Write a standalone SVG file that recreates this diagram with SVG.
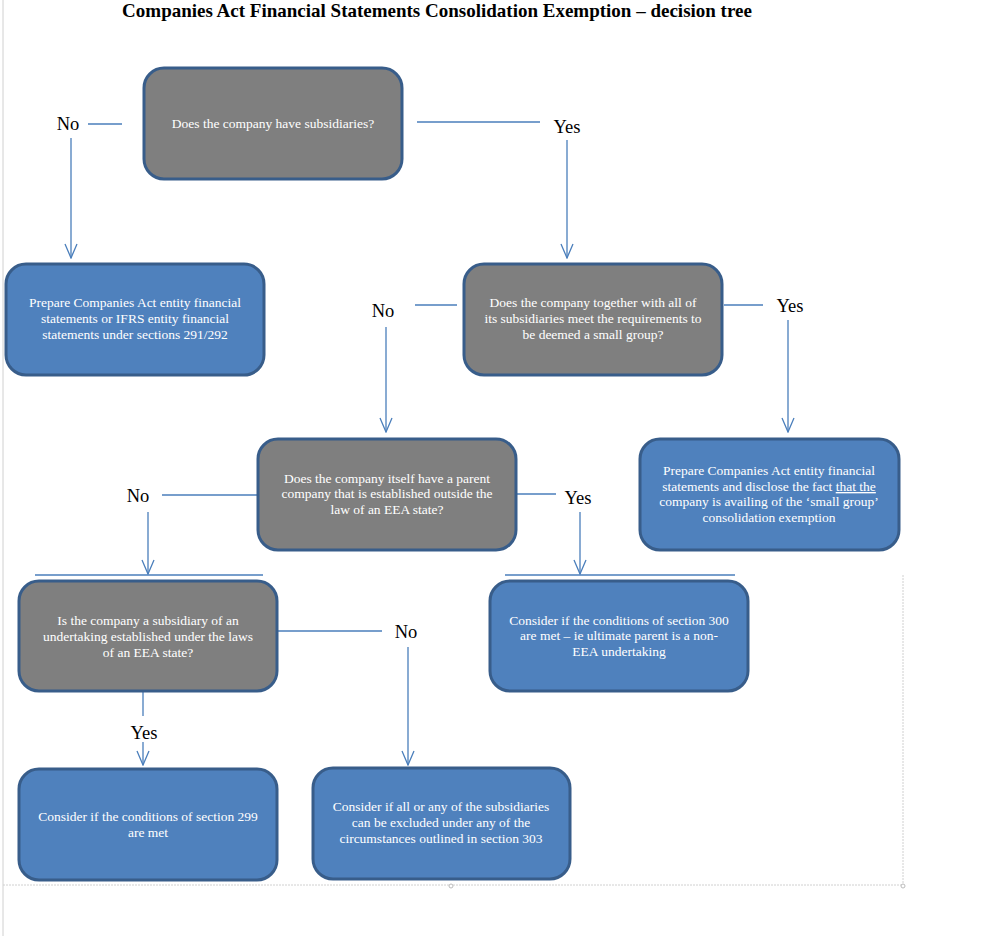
<svg xmlns="http://www.w3.org/2000/svg" width="1001" height="936" viewBox="0 0 1001 936">
<style>
.title{font-family:"Liberation Serif",serif;font-size:19px;font-weight:bold;fill:#000}
.nt{font-family:"Liberation Serif",serif;font-size:13.5px;fill:#fff;text-anchor:middle}
.lbl{font-family:"Liberation Serif",serif;font-size:18.5px;fill:#000;text-anchor:middle}
.gray{fill:#7f7f7f;stroke:#385d8a;stroke-width:3}
.blue{fill:#4f81bd;stroke:#385d8a;stroke-width:3}
.c{fill:none;stroke:#4a7ebb;stroke-width:1.3}
.frame{fill:none;stroke:#d0d0d0;stroke-width:1}
</style>
<defs>
<marker id="ah" markerUnits="userSpaceOnUse" markerWidth="16" markerHeight="14" refX="15" refY="7" orient="auto" viewBox="0 0 16 14">
<path d="M1,1 L15,7 L1,13" fill="none" stroke="#4a7ebb" stroke-width="1.3"/>
</marker>
</defs>
<rect width="1001" height="936" fill="#fff"/>
<g id="frame">
<line class="frame" x1="3" y1="0" x2="3" y2="936"/>
<line class="frame" x1="3" y1="885" x2="903" y2="885" stroke-dasharray="2,1"/>
<line class="frame" x1="903" y1="575" x2="903" y2="885" stroke-dasharray="2,1"/>
<circle cx="451" cy="886" r="2" fill="#fff" stroke="#bbb"/>
<circle cx="903" cy="886" r="2" fill="#fff" stroke="#bbb"/>
</g>
<text class="title" x="437" y="17" text-anchor="middle">Companies Act Financial Statements Consolidation Exemption – decision tree</text>
<g id="connectors">
<line class="c" x1="88" y1="124" x2="122" y2="124"/>
<line class="c" x1="71" y1="138" x2="71" y2="258" marker-end="url(#ah)"/>
<line class="c" x1="417" y1="122" x2="540" y2="122"/>
<line class="c" x1="567" y1="140" x2="567" y2="258" marker-end="url(#ah)"/>
<line class="c" x1="415" y1="305" x2="457" y2="305"/>
<line class="c" x1="386" y1="327" x2="386" y2="432" marker-end="url(#ah)"/>
<line class="c" x1="724" y1="305" x2="763" y2="305"/>
<line class="c" x1="788" y1="320" x2="788" y2="432" marker-end="url(#ah)"/>
<line class="c" x1="162" y1="495" x2="258" y2="495"/>
<line class="c" x1="148" y1="512" x2="148" y2="574" marker-end="url(#ah)"/>
<line class="c" x1="35" y1="575" x2="263" y2="575"/>
<line class="c" x1="516" y1="494" x2="556" y2="494"/>
<line class="c" x1="580" y1="512" x2="580" y2="574" marker-end="url(#ah)"/>
<line class="c" x1="505" y1="575" x2="735" y2="575"/>
<line class="c" x1="278" y1="631" x2="382" y2="631"/>
<line class="c" x1="408" y1="647" x2="408" y2="765" marker-end="url(#ah)"/>
<line class="c" x1="143" y1="692" x2="143" y2="716"/>
<line class="c" x1="143" y1="742" x2="143" y2="765" marker-end="url(#ah)"/>
</g>
<g id="labels">
<text class="lbl" x="68" y="130">No</text>
<text class="lbl" x="567" y="133">Yes</text>
<text class="lbl" x="383" y="317">No</text>
<text class="lbl" x="790" y="312">Yes</text>
<text class="lbl" x="138" y="502">No</text>
<text class="lbl" x="578" y="504">Yes</text>
<text class="lbl" x="406" y="638">No</text>
<text class="lbl" x="144" y="739">Yes</text>
</g>
<g id="n1">
<rect class="gray" x="144" y="68" width="258" height="111" rx="20"/>
<text class="nt" x="273" y="128">Does the company have subsidiaries?</text>
</g>
<g id="n2">
<rect class="blue" x="6" y="264" width="258" height="111" rx="20"/>
<text class="nt" x="135" y="307">Prepare Companies Act entity financial</text>
<text class="nt" x="135" y="323">statements or IFRS entity financial</text>
<text class="nt" x="135" y="339">statements under sections 291/292</text>
</g>
<g id="n3">
<rect class="gray" x="464" y="264" width="258" height="111" rx="20"/>
<text class="nt" x="593" y="307">Does the company together with all of</text>
<text class="nt" x="593" y="323">its subsidiaries meet the requirements to</text>
<text class="nt" x="593" y="339">be deemed a small group?</text>
</g>
<g id="n4">
<rect class="gray" x="258" y="439" width="258" height="111" rx="20"/>
<text class="nt" x="387" y="483">Does the company itself have a parent</text>
<text class="nt" x="387" y="498">company that is established outside the</text>
<text class="nt" x="387" y="514">law of an EEA state?</text>
</g>
<g id="n5">
<rect class="blue" x="640" y="439" width="259" height="111" rx="20"/>
<text class="nt" x="769" y="475">Prepare Companies Act entity financial</text>
<text class="nt" x="769" y="491">statements and disclose the fact <tspan text-decoration="underline">that  the</tspan></text>
<text class="nt" x="769" y="506">company is availing of the ‘small group’</text>
<text class="nt" x="769" y="522">consolidation exemption</text>
</g>
<g id="n6">
<rect class="gray" x="19" y="581" width="258" height="110" rx="20"/>
<text class="nt" x="148" y="625">Is the company a subsidiary of an</text>
<text class="nt" x="148" y="641">undertaking established under the laws</text>
<text class="nt" x="148" y="657">of an EEA state?</text>
</g>
<g id="n7">
<rect class="blue" x="490" y="581" width="258" height="110" rx="20"/>
<text class="nt" x="619" y="625">Consider if the conditions of section 300</text>
<text class="nt" x="619" y="640">are met – ie ultimate parent is a non-</text>
<text class="nt" x="619" y="656">EEA undertaking</text>
</g>
<g id="n8">
<rect class="blue" x="19" y="769" width="258" height="111" rx="20"/>
<text class="nt" x="148" y="821">Consider if the conditions of section 299</text>
<text class="nt" x="148" y="837">are met</text>
</g>
<g id="n9">
<rect class="blue" x="313" y="768" width="257" height="111" rx="20"/>
<text class="nt" x="441" y="811">Consider if all or any of the subsidiaries</text>
<text class="nt" x="441" y="827">can be excluded under any of the</text>
<text class="nt" x="441" y="843">circumstances outlined in section 303</text>
</g>
</svg>
